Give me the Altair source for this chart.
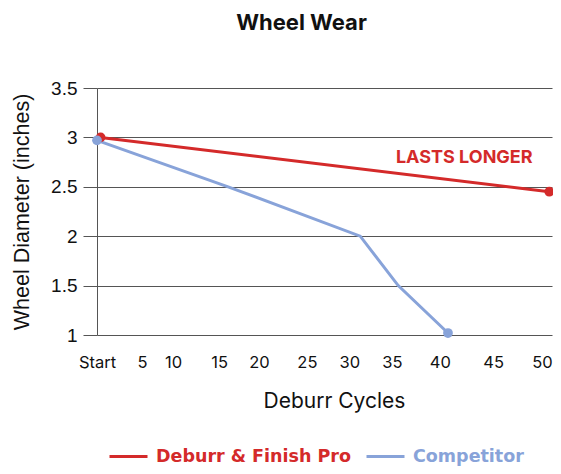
import altair as alt
import pandas as pd

# ---- data ----
red_name = "Deburr & Finish Pro"
blue_name = "Competitor"
red_x = [0.4, 50]
red_y = [3.0, 2.45]
blue_x = [0, 14.5, 29.1, 33.3, 38.8]
blue_y = [2.97, 2.5, 2.0, 1.5, 1.02]

x_tick_values = [0, 4.97, 8.4, 13.5, 17.9, 23.2, 27.9, 32.6, 37.9, 43.8, 49.2]
x_tick_labels = ["Start", "5", "10", "15", "20", "25", "30", "35", "40", "45", "50"]
y_ticks = [1, 1.5, 2, 2.5, 3, 3.5]

annot_text = ["LASTS LONGER"]
annot_x = [40.6]
annot_y = [2.79]

RED = "#d42a2a"
BLUE = "#88a3d9"
FONT = "Inter"

rows = []
for i, (x, y) in enumerate(zip(red_x, red_y)):
    rows.append({"series": red_name, "x": x, "y": y, "o": i, "end": i in (0, len(red_x) - 1)})
for i, (x, y) in enumerate(zip(blue_x, blue_y)):
    rows.append({"series": blue_name, "x": x, "y": y, "o": i, "end": i in (0, len(blue_x) - 1)})
df = pd.DataFrame(rows)
ann = pd.DataFrame({"t": annot_text, "x": annot_x, "y": annot_y})

vals_js = "[" + ",".join(str(v) for v in x_tick_values) + "]"
labs_js = "[" + ",".join("'" + l + "'" for l in x_tick_labels) + "]"

xscale = alt.Scale(domain=[0, 50.3], nice=False, zero=False)
yscale = alt.Scale(domain=[1, 3.5], nice=False, zero=False)
color = alt.Color(
    "series:N",
    scale=alt.Scale(domain=[red_name, blue_name], range=[RED, BLUE]),
    legend=alt.Legend(
        title=None,
        orient="none",
        legendX=11,
        legendY=348,
        direction="horizontal",
        symbolType="stroke",
        symbolSize=1444,
        symbolStrokeWidth=3,
        labelFont="DejaVu Sans",
        labelFontSize=17.5,
        labelFontWeight="bold",
        labelOffset=7,
        columnPadding=9,
        labelLimit=400,
        labelColor=alt.ExprRef(f"datum.label == '{blue_name}' ? '{BLUE}' : '{RED}'"),
    ),
)

x_enc = alt.X(
    "x:Q",
    scale=xscale,
    axis=alt.Axis(
        values=x_tick_values,
        labelExpr=f"{labs_js}[indexof({vals_js}, datum.value)]",
        grid=False,
        domain=False,
        ticks=False,
        labelFont=FONT,
        labelFontSize=16.5,
        labelColor="#111111",
        labelPadding=19,
        labelFlush=False,
        labelOverlap=False,
        title="Deburr Cycles",
        titleFont=FONT,
        titleFontSize=21,
        titleFontWeight="normal",
        titleColor="#111111",
        titlePadding=20,
        titleX=237,
    ),
)
y_enc = alt.Y(
    "y:Q",
    scale=yscale,
    axis=alt.Axis(
        values=y_ticks,
        format=".1~f",
        grid=True,
        gridColor="#555555",
        gridWidth=1,
        domain=True,
        domainColor="#555555",
        tickColor="#555555",
        tickSize=14,
        labelFont="Liberation Sans",
        labelFontSize=19,
        labelColor="#111111",
        labelPadding=6,
        title="Wheel Diameter (inches)",
        titleFont="Liberation Sans",
        titleFontSize=21.5,
        titleFontWeight="normal",
        titleColor="#111111",
        titlePadding=17,
    ),
)

lines = alt.Chart(df).mark_line(strokeWidth=3, clip=False).encode(
    x=x_enc, y=y_enc, color=color, order="o:Q", detail="series:N"
)
points = alt.Chart(df).transform_filter("datum.end").mark_circle(size=95, opacity=1).encode(
    x="x:Q", y="y:Q", color=alt.Color("series:N", legend=None,
                                      scale=alt.Scale(domain=[red_name, blue_name], range=[RED, BLUE]))
)
text = alt.Chart(ann).mark_text(font=FONT, fontSize=18, fontWeight="bold", color=RED).encode(
    x="x:Q", y="y:Q", text="t:N"
)

chart = (
    alt.layer(lines, points, text)
    .properties(
        width=455,
        height=247,
        autosize=alt.AutoSizeParams(type="none"),
        padding={"left": 89, "top": 80, "right": 1, "bottom": 131},
        title=alt.TitleParams(
            "Wheel Wear", font=FONT, fontSize=22, fontWeight="bold", color="#111111",
            anchor="middle", dx=-23, offset=44,
        ),
    )
    .configure_view(stroke=None)
)

chart.save("out.html", embed_options={"renderer": "svg", "actions": False})
